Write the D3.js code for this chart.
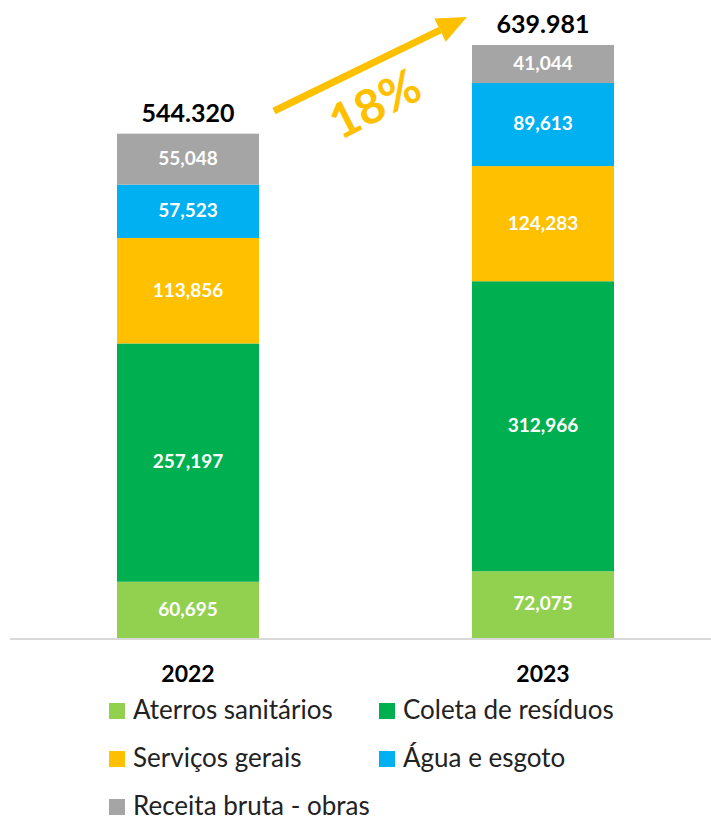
<!DOCTYPE html>
<html>
<head>
<meta charset="utf-8">
<script src="https://cdn.jsdelivr.net/npm/d3@7"></script>
<style>
  body { margin: 0; background: #fff; }
  text { font-family: Lato, "Open Sans", sans-serif; }
</style>
</head>
<body>
<div id="chart"></div>
<script>
const years = ["2022", "2023"];
const series = ["Aterros sanitários", "Coleta de resíduos", "Serviços gerais", "Água e esgoto", "Receita bruta - obras"];
const colors = ["#92D050", "#00B050", "#FFC000", "#00B0F0", "#A5A5A5"];
const aterros = [60.695, 72.075];
const coleta = [257.197, 312.966];
const servicos = [113.856, 124.283];
const agua = [57.523, 89.613];
const receita = [55.048, 41.044];
const totals = [544.320, 639.981];
const totalLabels = ["544.320", "639.981"];
const growthLabel = "18%";

const width = 711, height = 821;
const margin = { top: 45, bottom: 183, left: 10, right: 0 };

const svg = d3.select("#chart").append("svg")
    .attr("width", width)
    .attr("height", height);

// one row per year
const data = years.map((y, i) => ({
    year: y,
    [series[0]]: aterros[i],
    [series[1]]: coleta[i],
    [series[2]]: servicos[i],
    [series[3]]: agua[i],
    [series[4]]: receita[i]
}));

const stack = d3.stack().keys(series)(data);

const x = d3.scaleBand()
    .domain(years)
    .range([10.5, 720.5])
    .paddingInner(0.6)
    .paddingOuter(0.3);

const y = d3.scaleLinear()
    .domain([0, d3.max(totals)])
    .range([height - margin.bottom, margin.top]);

const color = d3.scaleOrdinal().domain(series).range(colors);

// bars
const layer = svg.selectAll(".layer")
    .data(stack)
    .join("g")
    .attr("class", "layer")
    .attr("fill", d => color(d.key));

layer.selectAll("rect")
    .data(d => d)
    .join("rect")
    .attr("x", d => x(d.data.year))
    .attr("width", x.bandwidth())
    .attr("y", d => y(d[1]))
    .attr("height", d => y(d[0]) - y(d[1]));

layer.selectAll("text")
    .data(d => d)
    .join("text")
    .attr("x", d => x(d.data.year) + x.bandwidth() / 2)
    .attr("y", d => (y(d[0]) + y(d[1])) / 2 + 1)
    .attr("text-anchor", "middle")
    .attr("dominant-baseline", "middle")
    .attr("fill", "white")
    .style("font-size", "19px")
    .style("font-weight", "bold")
    .text(d => d3.format(",.3f")(d[1] - d[0]).replace(".", ","));

// baseline
svg.append("line")
    .attr("x1", 10).attr("x2", width)
    .attr("y1", y(0) + 1).attr("y2", y(0) + 1)
    .attr("stroke", "#d9d9d9")
    .attr("stroke-width", 2);

// x axis labels
svg.append("g")
    .attr("transform", `translate(0,${y(0)})`)
    .call(d3.axisBottom(x).tickSize(0).tickPadding(28))
    .call(g => g.select(".domain").remove())
    .selectAll("text")
    .attr("fill", "#000")
    .style("font-size", "23px")
    .style("font-weight", "bold");

// totals
svg.selectAll(".total")
    .data(years)
    .join("text")
    .attr("class", "total")
    .attr("x", d => x(d) + x.bandwidth() / 2)
    .attr("y", (d, i) => y(totals[i]) - 12)
    .attr("text-anchor", "middle")
    .style("font-size", "25px")
    .style("font-weight", "bold")
    .text((d, i) => totalLabels[i]);

// growth arrow
const gold = "#FFC000";
const ax1 = 274, ay1 = 111, ax2 = 467, ay2 = 17;
const ang = Math.atan2(ay2 - ay1, ax2 - ax1);
const headLen = 30, headW = 13;
const bx = ax2 - headLen * Math.cos(ang), by = ay2 - headLen * Math.sin(ang);
svg.append("line")
    .attr("x1", ax1).attr("y1", ay1)
    .attr("x2", bx).attr("y2", by)
    .attr("stroke", gold)
    .attr("stroke-width", 7);
svg.append("path")
    .attr("fill", gold)
    .attr("d", d3.line()([
        [ax2, ay2],
        [bx + headW * Math.sin(ang), by - headW * Math.cos(ang)],
        [bx - headW * Math.sin(ang), by + headW * Math.cos(ang)]
    ]));
svg.append("text")
    .attr("transform", `translate(377,108) rotate(-27)`)
    .attr("text-anchor", "middle")
    .attr("dominant-baseline", "middle")
    .attr("fill", gold)
    .style("font-size", "48px")
    .style("font-weight", "bold")
    .text(growthLabel);

// legend
const legend = svg.selectAll(".legend")
    .data(series)
    .join("g")
    .attr("class", "legend")
    .attr("transform", (d, i) => `translate(${i % 2 === 0 ? 109 : 379},${711 + Math.floor(i / 2) * 48})`);

legend.append("rect")
    .attr("x", 0).attr("y", -8)
    .attr("width", 16).attr("height", 16)
    .attr("fill", d => color(d));

legend.append("text")
    .attr("x", 24)
    .attr("y", 1)
    .attr("dominant-baseline", "middle")
    .style("font-size", "26px")
    .attr("fill", "#222")
    .text(d => d);
</script>
</body>
</html>
